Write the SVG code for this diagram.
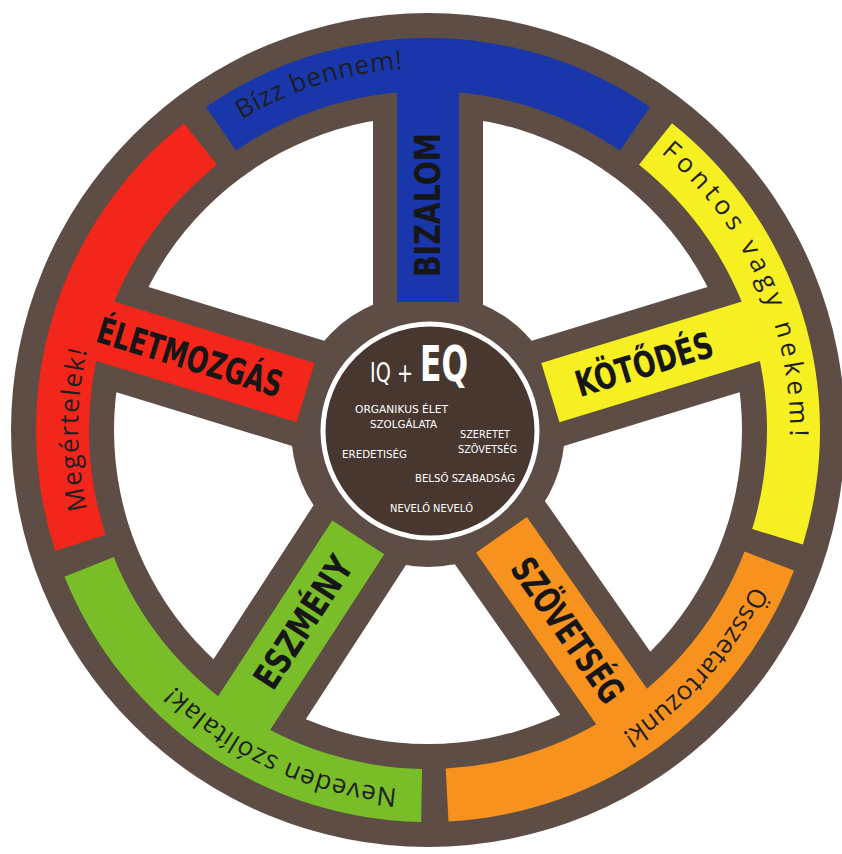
<svg xmlns="http://www.w3.org/2000/svg" width="842" height="854" viewBox="0 0 842 854">
<style>
.brown{fill:#5d4d45}
.hubfill{fill:#47372f;stroke:#ffffff;stroke-width:5}
.lbl{font-family:"DejaVu Sans Condensed","DejaVu Sans",sans-serif;font-weight:bold;font-size:36px;fill:#161616;text-anchor:middle}
.hand{font-family:"Open Sans","DejaVu Sans",sans-serif;font-size:26px;fill:#1e1e1e;text-anchor:middle}
.hub{font-family:"DejaVu Sans Condensed","DejaVu Sans",sans-serif;fill:#ffffff}
.small{font-size:11px}
</style>
<defs>
<path id="pBlue" d="M207.6,142.8 A362,362 0 0 1 443.8,68.4"/>
<path id="pYellow" d="M638.2,135.3 A362,362 0 0 1 788.3,464.7"/>
<path id="pOrange" d="M762.9,561.9 A360,360 0 0 1 599.8,746.4"/>
<path id="pGreen" d="M429.3,790 A360,360 0 0 1 153,662.4"/>
<path id="pRed" d="M99.1,549.7 A350,350 0 0 1 99.1,310.3"/>
</defs>
<rect width="842" height="854" fill="#ffffff"/>
<g id="wheel">
<circle class="brown" cx="428" cy="430" r="417"/>
<path fill="#ffffff" fill-rule="evenodd" d="M428,116 A314,314 0 1 1 428,744 A314,314 0 1 1 428,116 Z M428,293 A137,137 0 1 0 428,567 A137,137 0 1 0 428,293 Z"/>
</g>
<g id="spokes" class="brown">
<rect x="110" y="-55" width="222" height="110" transform="translate(428 430) rotate(-90)"/>
<rect x="110" y="-55" width="222" height="110" transform="translate(428 430) rotate(-17)"/>
<rect x="110" y="-55" width="222" height="110" transform="translate(428 430) rotate(55)"/>
<rect x="110" y="-55" width="222" height="110" transform="translate(428 430) rotate(123)"/>
<rect x="110" y="-55" width="222" height="110" transform="translate(428 430) rotate(197)"/>
</g>
<g id="bizalom">
<path fill="#1936aa" d="M206,106.9 A392,392 0 0 1 650,106.9 L620,150.6 A339,339 0 0 0 236,150.6 Z"/>
<rect fill="#1936aa" x="128" y="-31" width="215" height="62" transform="translate(428 430) rotate(-90)"/>
<text class="lbl" transform="translate(428 205) rotate(-90)" x="0" y="12" textLength="144" lengthAdjust="spacingAndGlyphs">BIZALOM</text>
<text class="hand"><textPath href="#pBlue" startOffset="50%" textLength="170" lengthAdjust="spacing">Bízz bennem!</textPath></text>
</g>
<g id="kotodes">
<path fill="#f6ef22" d="M672,123.2 A392,392 0 0 1 802.9,544.6 L752.2,529.1 A339,339 0 0 0 639,164.7 Z"/>
<rect fill="#f6ef22" x="128" y="-31" width="215" height="62" transform="translate(428 430) rotate(-17)"/>
<text class="lbl" transform="translate(644 364) rotate(-17)" x="0" y="13" textLength="142" lengthAdjust="spacingAndGlyphs">KÖTŐDÉS</text>
<text class="hand"><textPath href="#pYellow" startOffset="50%" textLength="322" lengthAdjust="spacing">Fontos vagy nekem!</textPath></text>
</g>
<g id="szovetseg">
<path fill="#f7921e" d="M794,570.5 A392,392 0 0 1 448.5,821.5 L445.7,768.5 A339,339 0 0 0 744.5,551.5 Z"/>
<rect fill="#f7921e" x="128" y="-31" width="215" height="62" transform="translate(428 430) rotate(55)"/>
<text class="lbl" transform="translate(568 630) rotate(55)" x="0" y="13" textLength="168" lengthAdjust="spacingAndGlyphs">SZÖVETSÉG</text>
<text class="hand"><textPath href="#pOrange" startOffset="50%" textLength="200" lengthAdjust="spacing">Összetartozunk!</textPath></text>
</g>
<g id="eszmeny">
<path fill="#79bd28" d="M421.1,821.9 A392,392 0 0 1 64.5,576.8 L113.7,557 A339,339 0 0 0 422.1,768.9 Z"/>
<rect fill="#79bd28" x="128" y="-31" width="215" height="62" transform="translate(428 430) rotate(123)"/>
<text class="lbl" transform="translate(303 622) rotate(-57)" x="0" y="13" textLength="150" lengthAdjust="spacingAndGlyphs">ESZMÉNY</text>
<text class="hand"><textPath href="#pGreen" startOffset="50%" textLength="250" lengthAdjust="spacing">Neveden szólítalak!</textPath></text>
</g>
<g id="eletmozgas">
<path fill="#f2261a" d="M55.2,551.1 A392,392 0 0 1 184,123.2 L217,164.7 A339,339 0 0 0 105.6,534.8 Z"/>
<rect fill="#f2261a" x="128" y="-31" width="215" height="62" transform="translate(428 430) rotate(197)"/>
<text class="lbl" transform="translate(190 357) rotate(17)" x="0" y="13" textLength="192" lengthAdjust="spacingAndGlyphs">ÉLETMOZGÁS</text>
<text class="hand"><textPath href="#pRed" startOffset="50%" textLength="160" lengthAdjust="spacing">Megértelek!</textPath></text>
</g>
<g id="hub">
<circle class="hubfill" cx="430" cy="431" r="107"/>
<text class="hub" x="370" y="382" font-size="27" textLength="43" lengthAdjust="spacingAndGlyphs">IQ +</text>
<text class="hub" x="420" y="381" font-size="50" font-weight="bold" textLength="48" lengthAdjust="spacingAndGlyphs">EQ</text>
<text class="hub small" x="355" y="413" textLength="93" lengthAdjust="spacingAndGlyphs">ORGANIKUS ÉLET</text>
<text class="hub small" x="370" y="428" textLength="67" lengthAdjust="spacingAndGlyphs">SZOLGÁLATA</text>
<text class="hub small" x="460" y="438" textLength="50" lengthAdjust="spacingAndGlyphs">SZERETET</text>
<text class="hub small" x="458" y="453" textLength="59" lengthAdjust="spacingAndGlyphs">SZÖVETSÉG</text>
<text class="hub small" x="342" y="458" textLength="65" lengthAdjust="spacingAndGlyphs">EREDETISÉG</text>
<text class="hub small" x="415" y="482" textLength="100" lengthAdjust="spacingAndGlyphs">BELSŐ SZABADSÁG</text>
<text class="hub small" x="390" y="512" textLength="83" lengthAdjust="spacingAndGlyphs">NEVELŐ NEVELŐ</text>
</g>
</svg>
